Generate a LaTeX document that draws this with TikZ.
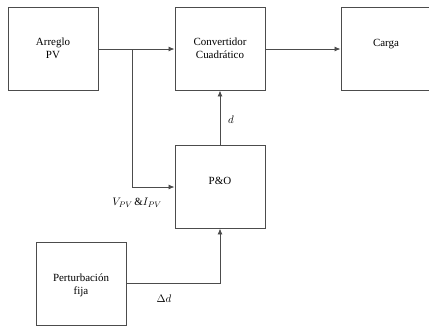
\documentclass[tikz,border=0pt]{standalone}
\usepackage{fontspec}
\setmainfont{Liberation Serif}
\usetikzlibrary{arrows.meta}
\begin{document}
\begin{tikzpicture}[x=1bp,y=-1bp,
  blk/.style={draw=black!70,line width=0.9bp,minimum width=90bp,minimum height=83bp,align=center,inner sep=0pt,font=\fontsize{11}{13}\selectfont},
  conn/.style={draw=black!70,line width=0.9bp},
  arr/.style={conn,-{Latex[length=6bp,width=5bp]}},
  lbl/.style={font=\fontsize{11}{13}\selectfont,inner sep=0pt}]
\useasboundingbox (0,0) rectangle (429,328);
\node[blk] (pv) at (53,48.5) {Arreglo\\PV};
\node[blk] (conv) at (220,48.5) {Convertidor\\Cuadrático};
\begin{scope}
\clip (0,0) rectangle (429,328);
\node[blk] (carga) at (386,48.5) {};
\end{scope}
\node[lbl] at (386,44) {Carga};
\node[blk] (po) at (220,186.5) {};
\node[lbl] at (220,181) {P\&O};
\node[blk] (pert) at (81,284) {};
\node[lbl,align=center,font=\fontsize{11}{13}\selectfont] at (81,285) {Perturbación\\fija};
\coordinate (j) at (132,49);
\coordinate (jd) at (132,187);
\coordinate (pc) at (220,283);
\draw[arr] (pv.east |- j) -- (conv.west |- j);
\draw[arr] (conv.east |- j) -- (carga.west |- j);
\draw[arr] (j) -- (jd) -- (po.west |- jd);
\draw[arr] (po.north) -- (conv.south);
\draw[arr] (pert.east |- pc) -- (pc) -- (po.south);
\node[lbl] at (231,120) {$d$};
\node[lbl] at (164,299) {$\Delta d$};
\node[lbl] at (137,203) {$V_{PV}$\,\&$I_{PV}$};
\end{tikzpicture}
\end{document}
